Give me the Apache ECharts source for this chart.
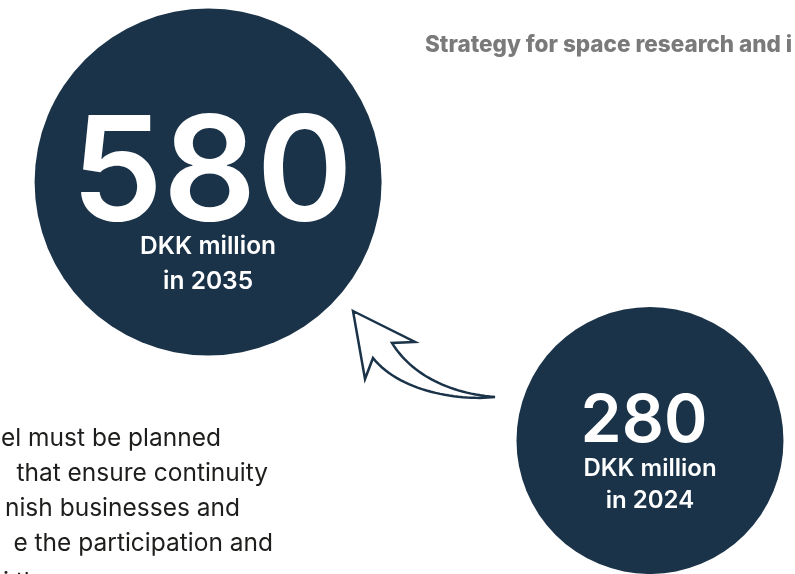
<!DOCTYPE html>
<html>
<head>
<meta charset="utf-8">
<script src="https://cdn.jsdelivr.net/npm/echarts@6/dist/echarts.min.js"></script>
<style>
html,body{margin:0;padding:0;background:#fff;}
#c{width:795px;height:574px;}
</style>
</head>
<body>
<div id="c"></div>
<script>
// Data
var years = [2035, 2024];
var values = [580, 280];
var unitLabel = 'DKK million';
var headerText = 'Strategy for space research and i';
var bodyLines = ['el must be planned', 'that ensure continuity', 'nish businesses and', 'e the participation and', 'i th'];

var NAVY = '#1a3349';
var circleSizes = [347, 267];
var labelStyles = [
  {big: 146, small: 24.5, l1: 105, l2: 35, off: 30, pad: [0, 0, 0, 8]},
  {big: 66, small: 24, l1: 61, l2: 32, off: 14, pad: [0, 12, 0, 0]}
];

var chart = echarts.init(document.getElementById('c'));

var seriesData = years.map(function (y, i) {
  var s = labelStyles[i];
  return {
    value: [y, values[i]],
    symbolSize: circleSizes[i],
    label: {
      show: true,
      position: 'inside',
      offset: [0, s.off],
      formatter: '{v|' + values[i] + '}\n{u|' + unitLabel + '}\n{w|in ' + y + '}',
      rich: {
        v: {fontSize: s.big, fontWeight: 600, fontFamily: 'Inter', color: '#fff', lineHeight: s.l1, align: 'center', padding: s.pad},
        u: {fontSize: s.small, fontWeight: 600, fontFamily: 'Inter', color: '#fff', lineHeight: s.l2, align: 'center'},
        w: {fontSize: s.small, fontWeight: 600, fontFamily: 'Inter', color: '#fff', lineHeight: s.l2, align: 'center'}
      }
    }
  };
});

// arrow outline built from bezier segments (decorative shape)
function cubic(p0, p1, p2, p3, n) {
  var pts = [];
  for (var k = 0; k <= n; k++) {
    var t = k / n, u = 1 - t;
    pts.push([
      u*u*u*p0[0] + 3*u*u*t*p1[0] + 3*u*t*t*p2[0] + t*t*t*p3[0],
      u*u*u*p0[1] + 3*u*u*t*p1[1] + 3*u*t*t*p2[1] + t*t*t*p3[1]
    ]);
  }
  return pts;
}
var arrowPts = [[353, 311], [415, 342]]
  .concat(cubic([392, 343], [410, 372], [445, 393], [495, 397], 30))
  .concat(cubic([495, 397], [460, 401], [400, 392], [373, 358], 30).slice(1))
  .concat([[365, 379]]);

var bodyRight = [221, 268, 240, 273];
var graphics = [];
graphics.push({
  type: 'text', x: 425, y: 34, z: 10,
  style: {text: headerText, fill: '#7a7a7a', font: '800 22.5px Inter'}
});
bodyLines.forEach(function (t, i) {
  var isLast = i === bodyLines.length - 1;
  graphics.push({
    type: 'text', z: 10,
    x: isLast ? 3 : bodyRight[i], y: isLast ? 570 : 426 + i * 35,
    style: {text: t, fill: '#1d1d1b', font: '400 24.5px Inter', align: isLast ? 'left' : 'right'}
  });
});
graphics.push({
  type: 'polygon', z: 10,
  shape: {points: arrowPts},
  style: {fill: '#fff', stroke: NAVY, lineWidth: 2.5, lineJoin: 'miter'}
});

chart.setOption({
  animation: false,
  backgroundColor: '#fff',
  grid: {left: 0, right: 0, top: 0, bottom: 0},
  xAxis: {type: 'value', inverse: true, min: 2020.39, max: 2040.18, show: false},
  yAxis: {type: 'value', min: 125.1, max: 791.2, show: false},
  series: [{
    type: 'scatter',
    symbol: 'circle',
    itemStyle: {color: NAVY, opacity: 1},
    silent: true,
    data: seriesData
  }],
  graphic: graphics
});
</script>
</body>
</html>
